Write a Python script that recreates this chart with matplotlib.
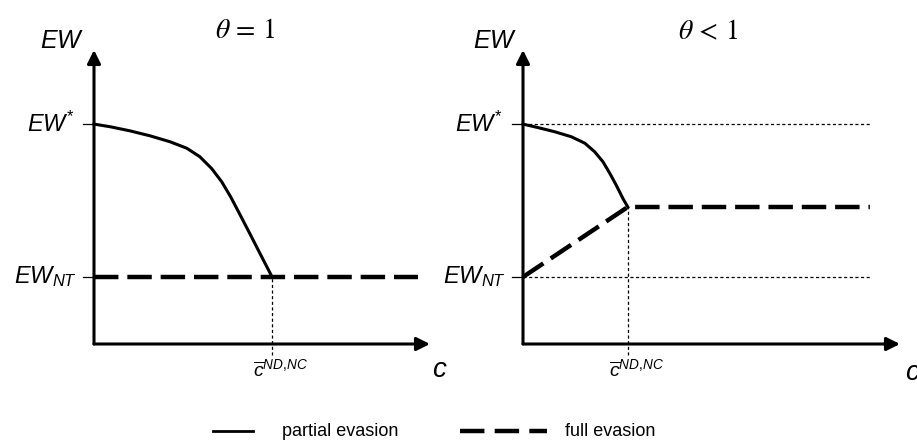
import matplotlib
matplotlib.use("Agg")
import matplotlib.pyplot as plt

plt.rcParams['font.family'] = ['Liberation Sans', 'DejaVu Sans']
plt.rcParams['mathtext.fontset'] = 'custom'
plt.rcParams['mathtext.it'] = 'Liberation Sans:italic'
plt.rcParams['mathtext.rm'] = 'Liberation Sans'

# welfare levels (axis units, 0..1)
ew_star = 0.748
ew_nt = 0.228
ew_kink = 0.466

# threshold cost in each panel
c_bar_left = 0.53
c_bar_right = 0.278
line_end_left = 0.965
line_end_right = 0.92

# partial evasion curves
c_partial_left = [0.0, 0.048, 0.107, 0.167, 0.226, 0.276, 0.315, 0.350,
                  0.380, 0.407, 0.435, 0.464, 0.494, 0.53]
ew_partial_left = [0.748, 0.739, 0.725, 0.708, 0.688, 0.666, 0.637, 0.597,
                   0.552, 0.500, 0.439, 0.375, 0.308, 0.228]
c_partial_right = [0.0, 0.040, 0.084, 0.128, 0.164, 0.190, 0.212, 0.230,
                   0.247, 0.265, 0.278]
ew_partial_right = [0.748, 0.736, 0.722, 0.705, 0.683, 0.654, 0.620, 0.581,
                    0.541, 0.495, 0.466]

W, H = 917, 446
fig = plt.figure(figsize=(W / 100, H / 100), dpi=100)

K = 'black'
DASH = (5.5, 2.0)
DOT = (2.5, 2.0)
CBAR = r'$\overline{c}^{ND{,}NC}$'


def make_axes(x0, x1):
    ax = fig.add_axes([x0 / W, (H - 344) / H, (x1 - x0) / W, 294 / H])
    ax.set_xlim(0, 1)
    ax.set_ylim(0, 1)
    ax.axis('off')
    arrow = dict(arrowstyle='-|>', lw=2.2, color=K, mutation_scale=20,
                 shrinkA=0, shrinkB=0)
    ax.annotate('', xy=(1, 0), xytext=(0, 0), arrowprops=arrow,
                annotation_clip=False)
    ax.annotate('', xy=(0, 1), xytext=(0, 0), arrowprops=arrow,
                annotation_clip=False)
    return ax


def label_math(ax, x, y, s, size, **kw):
    ax.text(x, y, s, fontsize=size, color=K, clip_on=False, **kw)


# ---------- left panel: theta = 1 ----------
ax1 = make_axes(94, 430)
tick1 = 11 / 336
ax1.plot([-tick1, 0], [ew_star, ew_star], color=K, lw=0.9, clip_on=False)
ax1.plot([-tick1, 0], [ew_nt, ew_nt], color=K, lw=0.9, clip_on=False)
ax1.plot([0, line_end_left], [ew_nt, ew_nt], color=K, lw=3.2,
         dashes=DASH, clip_on=False)
ax1.plot(c_partial_left, ew_partial_left, color=K, lw=2.2, clip_on=False,
         solid_joinstyle='round')
ax1.plot([c_bar_left, c_bar_left], [-0.037, ew_nt], color=K, lw=0.9,
         dashes=DOT, clip_on=False)

label_math(ax1, -0.057, ew_star, r'$EW^{*}$', 17, ha='right', va='center')
label_math(ax1, -0.05, ew_nt, r'$EW_{NT}$', 17, ha='right', va='center')
label_math(ax1, -0.095, 1.03, r'$EW$', 18, ha='center', va='center')
label_math(ax1, c_bar_left - 0.057, -0.085, CBAR, 14,
           ha='left', va='center')
label_math(ax1, 1.03, -0.09, r'$c$', 20, ha='center', va='center')
ax1.text(0.45, 1.065, r'$\theta\,=\,1$', fontsize=20, ha='center',
         va='center', math_fontfamily='stix', clip_on=False)

# ---------- right panel: theta < 1 ----------
ax2 = make_axes(523, 900)
tick2 = 11 / 377
ax2.plot([-tick2, 0], [ew_star, ew_star], color=K, lw=0.9, clip_on=False)
ax2.plot([-tick2, 0], [ew_nt, ew_nt], color=K, lw=0.9, clip_on=False)
ax2.plot([0, line_end_right], [ew_star, ew_star], color=K, lw=0.9,
         dashes=DOT, clip_on=False)
ax2.plot([0, line_end_right], [ew_nt, ew_nt], color=K, lw=0.9,
         dashes=DOT, clip_on=False)
ax2.plot([c_bar_right, c_bar_right], [-0.037, ew_kink], color=K, lw=0.9,
         dashes=DOT, clip_on=False)
ax2.plot([0, c_bar_right, line_end_right], [ew_nt, ew_kink, ew_kink],
         color=K, lw=3.2, dashes=DASH, clip_on=False)
ax2.plot(c_partial_right, ew_partial_right, color=K, lw=2.2, clip_on=False,
         solid_joinstyle='round')

label_math(ax2, -0.053, ew_star, r'$EW^{*}$', 17, ha='right', va='center')
label_math(ax2, -0.045, ew_nt, r'$EW_{NT}$', 17, ha='right', va='center')
label_math(ax2, -0.074, 1.03, r'$EW$', 18, ha='center', va='center')
label_math(ax2, c_bar_right - 0.05, -0.085, CBAR, 14,
           ha='left', va='center')
label_math(ax2, 1.034, -0.1, r'$c$', 20, ha='center', va='center')
ax2.text(0.49, 1.06, r'$\theta\,<\,1$', fontsize=20, ha='center',
         va='center', math_fontfamily='stix', clip_on=False)

# ---------- legend strip ----------
lax = fig.add_axes([0, 0, 1, 40 / H])
lax.set_xlim(0, W)
lax.set_ylim(0, 40)
lax.axis('off')
lax.plot([213, 253], [15, 15], color=K, lw=2.0)
lax.text(282, 15, 'partial evasion', fontsize=13, va='center', ha='left')
lax.plot([460, 547], [15, 15], color=K, lw=3.2, dashes=(5.5, 2.3))
lax.text(565, 15, 'full evasion', fontsize=13, va='center', ha='left')

fig.savefig('out.png', dpi=100)
